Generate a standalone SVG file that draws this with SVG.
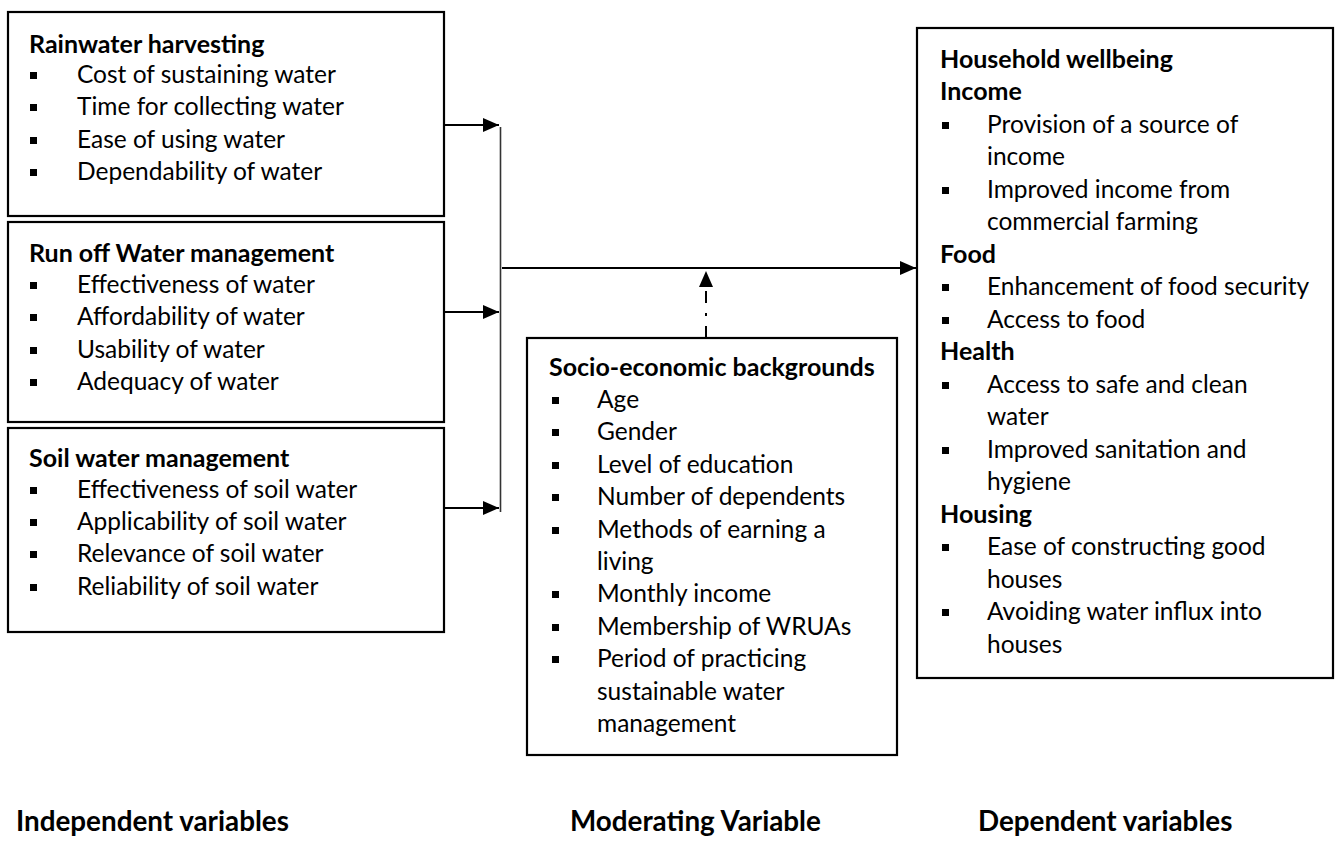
<svg xmlns="http://www.w3.org/2000/svg" width="1335" height="843" viewBox="0 0 1335 843">
<style>
.box{fill:#fff;stroke:#000;stroke-width:2.2}
.t{font-family:Lato,"Open Sans","Liberation Sans",sans-serif;font-size:24.5px;fill:#000}
.b{font-weight:bold;font-size:25px}
.lbl{font-family:Lato,"Open Sans","Liberation Sans",sans-serif;font-size:27.8px;font-weight:bold;fill:#000}
.bul{fill:#000}
.ln{stroke:#000;stroke-width:2;fill:none}
.thin{stroke:#333;stroke-width:1.6;fill:none}
</style>
<defs>
<marker id="ah" markerUnits="userSpaceOnUse" markerWidth="17" markerHeight="14" refX="16" refY="7" orient="auto">
<path d="M0,0 L16,7 L0,14 z" fill="#000"/>
</marker>
<rect id="sq" width="7" height="7" class="bul"/>
</defs>

<g id="connectors">
<path class="ln" d="M444,125 L499,125" marker-end="url(#ah)"/>
<path class="ln" d="M444,312 L499,312" marker-end="url(#ah)"/>
<path class="ln" d="M444,508 L499,508" marker-end="url(#ah)"/>
<path class="thin" d="M500.5,127 L500.5,512"/>
<path class="ln" d="M502,268 L916,268" marker-end="url(#ah)"/>
<path class="ln" d="M706,338 L706,271" stroke-dasharray="12 10 3 10 12 40" marker-end="url(#ah)"/>
</g>

<g id="rainwater">
<rect class="box" x="8" y="12" width="436" height="204"/>
<text class="t b" x="29" y="53">Rainwater harvesting</text>
<use href="#sq" x="30" y="72"/><text class="t" x="77" y="83">Cost of sustaining water</text>
<use href="#sq" x="30" y="104"/><text class="t" x="77" y="115">Time for collecting water</text>
<use href="#sq" x="30" y="137"/><text class="t" x="77" y="148">Ease of using water</text>
<use href="#sq" x="30" y="169"/><text class="t" x="77" y="180">Dependability of water</text>
</g>

<g id="runoff">
<rect class="box" x="8" y="222" width="436" height="200"/>
<text class="t b" x="29" y="262">Run off Water management</text>
<use href="#sq" x="30" y="282"/><text class="t" x="77" y="293">Effectiveness of water</text>
<use href="#sq" x="30" y="314"/><text class="t" x="77" y="325">Affordability of water</text>
<use href="#sq" x="30" y="347"/><text class="t" x="77" y="358">Usability of water</text>
<use href="#sq" x="30" y="379"/><text class="t" x="77" y="390">Adequacy of water</text>
</g>

<g id="soil">
<rect class="box" x="8" y="428" width="436" height="204"/>
<text class="t b" x="29" y="467">Soil water management</text>
<use href="#sq" x="30" y="487"/><text class="t" x="77" y="498">Effectiveness of soil water</text>
<use href="#sq" x="30" y="519"/><text class="t" x="77" y="530">Applicability of soil water</text>
<use href="#sq" x="30" y="551"/><text class="t" x="77" y="562">Relevance of soil water</text>
<use href="#sq" x="30" y="584"/><text class="t" x="77" y="595">Reliability of soil water</text>
</g>

<g id="socio">
<rect class="box" x="527" y="338" width="370" height="417"/>
<text class="t b" x="549" y="376">Socio-economic backgrounds</text>
<use href="#sq" x="552" y="397"/><text class="t" x="597" y="408">Age</text>
<use href="#sq" x="552" y="429"/><text class="t" x="597" y="440">Gender</text>
<use href="#sq" x="552" y="462"/><text class="t" x="597" y="473">Level of education</text>
<use href="#sq" x="552" y="494"/><text class="t" x="597" y="505">Number of dependents</text>
<use href="#sq" x="552" y="527"/><text class="t" x="597" y="538">Methods of earning a</text>
<text class="t" x="597" y="570">living</text>
<use href="#sq" x="552" y="591"/><text class="t" x="597" y="602">Monthly income</text>
<use href="#sq" x="552" y="624"/><text class="t" x="597" y="635">Membership of WRUAs</text>
<use href="#sq" x="552" y="656"/><text class="t" x="597" y="667">Period of practicing</text>
<text class="t" x="597" y="700">sustainable water</text>
<text class="t" x="597" y="732">management</text>
</g>

<g id="wellbeing">
<rect class="box" x="917" y="28" width="416" height="650"/>
<text class="t b" x="940" y="68">Household wellbeing</text>
<text class="t b" x="940" y="100">Income</text>
<use href="#sq" x="942" y="122"/><text class="t" x="987" y="133">Provision of a source of</text>
<text class="t" x="987" y="165">income</text>
<use href="#sq" x="942" y="187"/><text class="t" x="987" y="198">Improved income from</text>
<text class="t" x="987" y="230">commercial farming</text>
<text class="t b" x="940" y="263">Food</text>
<use href="#sq" x="942" y="284"/><text class="t" x="987" y="295">Enhancement of food security</text>
<use href="#sq" x="942" y="317"/><text class="t" x="987" y="328">Access to food</text>
<text class="t b" x="940" y="360">Health</text>
<use href="#sq" x="942" y="382"/><text class="t" x="987" y="393">Access to safe and clean</text>
<text class="t" x="987" y="425">water</text>
<use href="#sq" x="942" y="447"/><text class="t" x="987" y="458">Improved sanitation and</text>
<text class="t" x="987" y="490">hygiene</text>
<text class="t b" x="940" y="523">Housing</text>
<use href="#sq" x="942" y="544"/><text class="t" x="987" y="555">Ease of constructing good</text>
<text class="t" x="987" y="588">houses</text>
<use href="#sq" x="942" y="609"/><text class="t" x="987" y="620">Avoiding water influx into</text>
<text class="t" x="987" y="653">houses</text>
</g>

<g id="labels">
<text class="lbl" x="16" y="831">Independent variables</text>
<text class="lbl" x="570" y="831">Moderating Variable</text>
<text class="lbl" x="978" y="831">Dependent variables</text>
</g>
</svg>
